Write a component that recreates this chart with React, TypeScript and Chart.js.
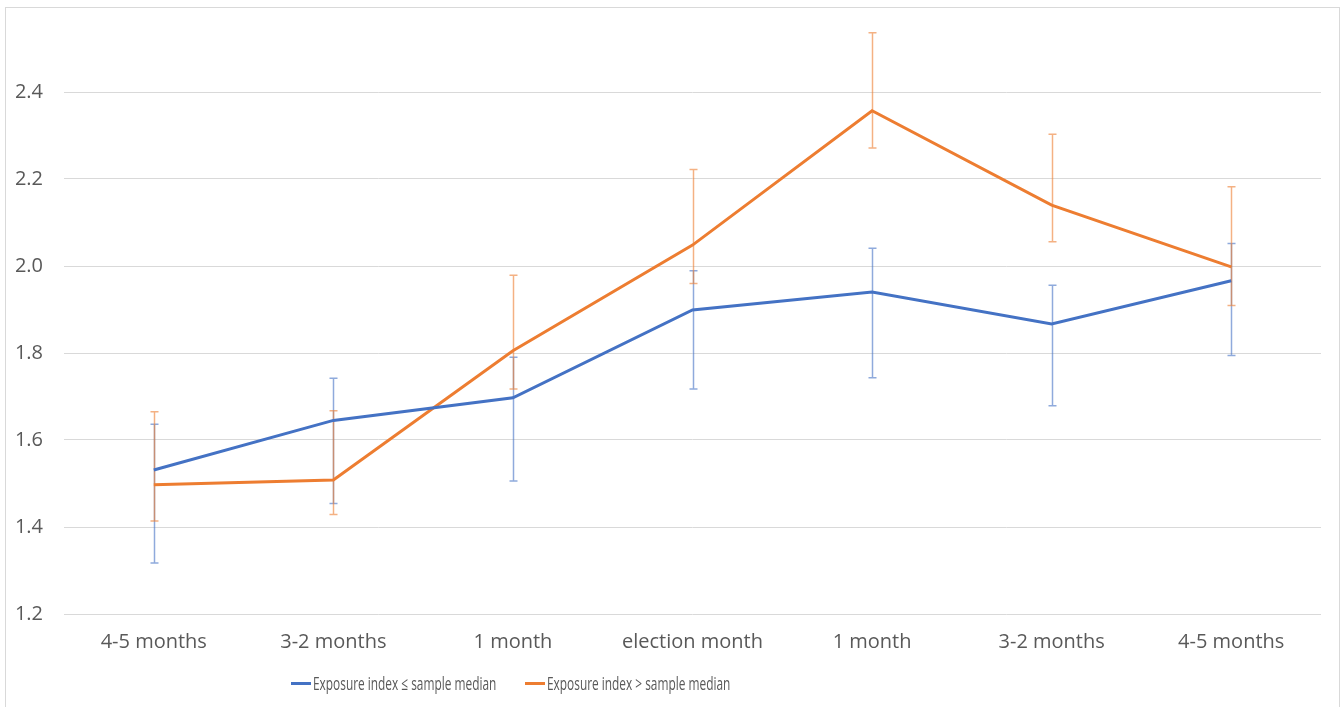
import React, { useEffect, useRef } from "react";
import { Chart, registerables } from "chart.js";

Chart.register(...registerables);

// Months before / after the election
const categories = [
  "4-5 months",
  "3-2 months",
  "1 month",
  "election month",
  "1 month",
  "3-2 months",
  "4-5 months",
];

// Exposure index at or below the sample median
const lowLabel = "Exposure index \u2264 sample median";
const lowMean = [1.531, 1.645, 1.697, 1.899, 1.94, 1.867, 1.966];
const lowUpper = [1.636, 1.742, 1.79, 1.989, 2.041, 1.956, 2.052];
const lowLower = [1.317, 1.454, 1.506, 1.717, 1.743, 1.679, 1.794];

// Exposure index above the sample median
const highLabel = "Exposure index > sample median";
const highMean = [1.497, 1.508, 1.805, 2.048, 2.357, 2.14, 1.998];
const highUpper = [1.665, 1.667, 1.979, 2.222, 2.536, 2.303, 2.182];
const highLower = [1.414, 1.429, 1.717, 1.96, 2.271, 2.056, 1.909];

// Value axis ticks
const yTicks = [1.2, 1.4, 1.6, 1.8, 2.0, 2.2, 2.4];

const BLUE = "#4472C4";
const ORANGE = "#ED7D31";
const BLUE_ERR = "rgba(68,114,196,0.6)";
const ORANGE_ERR = "rgba(237,125,49,0.6)";
const TEXT = "#595959";
const GRID = "#d9d9d9";
const FONT = "'Open Sans', 'Noto Sans', sans-serif";

const errorBars = [
  { upper: lowUpper, lower: lowLower, color: BLUE_ERR },
  { upper: highUpper, lower: highLower, color: ORANGE_ERR },
];

// Draws vertical whiskers with short caps underneath the lines
const errorBarPlugin = {
  id: "errorBars",
  beforeDatasetsDraw(chart: any) {
    const { ctx, scales } = chart;
    const y = scales.y;
    errorBars.forEach((bars, i) => {
      const meta = chart.getDatasetMeta(i);
      if (!meta || meta.hidden) return;
      ctx.save();
      ctx.strokeStyle = bars.color;
      ctx.lineWidth = 1.5;
      meta.data.forEach((pt: any, j: number) => {
        const px = Math.round(pt.x) + 0.5;
        const top = y.getPixelForValue(bars.upper[j]);
        const bot = y.getPixelForValue(bars.lower[j]);
        const cap = 4;
        ctx.beginPath();
        ctx.moveTo(px, top);
        ctx.lineTo(px, bot);
        ctx.moveTo(px - cap, top);
        ctx.lineTo(px + cap, top);
        ctx.moveTo(px - cap, bot);
        ctx.lineTo(px + cap, bot);
        ctx.stroke();
      });
      ctx.restore();
    });
  },
};

export default function App() {
  const canvasRef = useRef<HTMLCanvasElement | null>(null);

  useEffect(() => {
    const canvas = canvasRef.current;
    if (!canvas) return;
    const chart = new Chart(canvas, {
      type: "line",
      data: {
        labels: categories,
        datasets: [
          {
            label: lowLabel,
            data: lowMean,
            borderColor: BLUE,
            backgroundColor: BLUE,
            borderWidth: 3,
            pointRadius: 0,
            tension: 0,
          },
          {
            label: highLabel,
            data: highMean,
            borderColor: ORANGE,
            backgroundColor: ORANGE,
            borderWidth: 3,
            pointRadius: 0,
            tension: 0,
          },
        ],
      },
      options: {
        responsive: false,
        animation: false,
        devicePixelRatio: 1,
        layout: { padding: { left: 0, right: 23, top: 5, bottom: 33 } },
        plugins: {
          legend: { display: false },
          tooltip: { enabled: false },
        },
        scales: {
          x: {
            type: "category",
            offset: true,
            grid: { display: false, drawTicks: false },
            border: { display: false },
            ticks: {
              color: TEXT,
              font: { family: FONT, size: 20 },
              padding: 16,
              maxRotation: 0,
              autoSkip: false,
            },
            afterFit(scale: any) {
              scale.height = 60;
              scale.paddingLeft = 0;
              scale.paddingRight = 0;
            },
          },
          y: {
            min: 1.2,
            max: 2.6,
            grid: {
              drawTicks: false,
              lineWidth: 1,
              color: (c: any) =>
                c.tick && c.tick.value > 2.5 ? "rgba(0,0,0,0)" : GRID,
            },
            border: { display: false },
            afterBuildTicks(scale: any) {
              scale.ticks = [...yTicks, 2.6].map((v) => ({ value: v }));
            },
            ticks: {
              color: TEXT,
              font: { family: FONT, size: 20 },
              padding: 21,
              callback: (v: any) => (Number(v) > 2.5 ? "" : Number(v).toFixed(1)),
            },
            afterFit(scale: any) {
              scale.width = 64;
              scale.paddingTop = 0;
              scale.paddingBottom = 0;
            },
          },
        },
      },
      plugins: [errorBarPlugin],
    });
    return () => chart.destroy();
  }, []);

  const legendItems = [
    { label: lowLabel, color: BLUE },
    { label: highLabel, color: ORANGE },
  ];

  return (
    <div
      style={{
        position: "fixed",
        left: 0,
        top: 0,
        width: 1344,
        height: 707,
        background: "#ffffff",
        overflow: "hidden",
      }}
    >
      <div
        style={{
          position: "absolute",
          left: 5,
          top: 7,
          width: 1335,
          height: 720,
          border: "1px solid #d9d9d9",
          boxSizing: "border-box",
        }}
      />
      <canvas
        ref={canvasRef}
        width={1344}
        height={707}
        style={{ position: "absolute", left: 0, top: 0, width: 1344, height: 707 }}
      />
      <div
        style={{
          position: "absolute",
          left: 291,
          top: 671,
          height: 24,
          display: "flex",
          alignItems: "center",
          fontFamily: FONT,
          fontSize: 18,
          color: TEXT,
          whiteSpace: "nowrap",
        }}
      >
        {legendItems.map((item, i) => (
          <div
            key={i}
            style={{
              display: "flex",
              alignItems: "center",
              flexShrink: 0,
              width: i === 0 ? 234 : 210,
            }}
          >
            <span
              style={{
                display: "inline-block",
                flexShrink: 0,
                width: 20,
                height: 3,
                background: item.color,
                marginRight: 2,
              }}
            />
            <span
              style={{
                display: "inline-block",
                flexShrink: 0,
                transform: "scaleX(0.66)",
                transformOrigin: "left center",
              }}
            >
              {item.label}
            </span>
          </div>
        ))}
      </div>
    </div>
  );
}
